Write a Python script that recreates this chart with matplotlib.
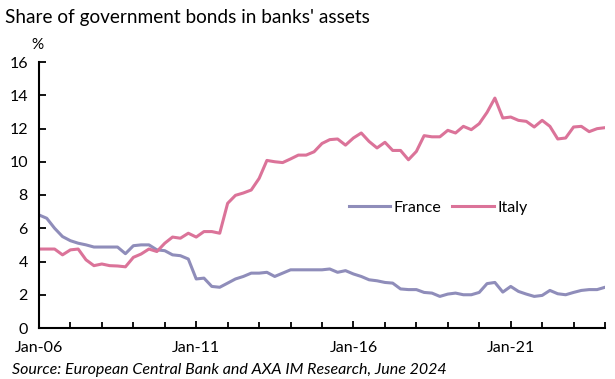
import matplotlib
matplotlib.use("Agg")
import matplotlib.pyplot as plt
import matplotlib.dates as mdates
import pandas as pd

# quarterly observations, Q1 2006 .. Q1 2024
dates = pd.date_range("2006-01-01", "2024-01-01", freq="QS")

france = [6.8, 6.6, 6.0, 5.5, 5.25, 5.1, 5.0, 4.87, 4.87, 4.87, 4.87, 4.47,
          4.95, 5.0, 5.0, 4.7, 4.65, 4.4, 4.35, 4.15, 2.95, 3.0, 2.5, 2.45,
          2.7, 2.95, 3.1, 3.3, 3.3, 3.35, 3.1, 3.3, 3.5, 3.5, 3.5, 3.5,
          3.5, 3.55, 3.35, 3.45, 3.25, 3.1, 2.9, 2.84, 2.74, 2.7, 2.35, 2.31,
          2.31, 2.14, 2.1, 1.9, 2.04, 2.1, 2.0, 2.0, 2.14, 2.67, 2.74, 2.16,
          2.5, 2.2, 2.04, 1.9, 1.96, 2.26, 2.06, 2.0, 2.14, 2.26, 2.31, 2.31,
          2.45]

italy = [4.75, 4.75, 4.75, 4.4, 4.7, 4.75, 4.1, 3.75, 3.85, 3.75, 3.73, 3.68,
         4.25, 4.45, 4.75, 4.6, 5.1, 5.47, 5.4, 5.7, 5.47, 5.8, 5.8, 5.7,
         7.5, 7.98, 8.12, 8.3, 9.0, 10.08, 10.0, 9.95, 10.17, 10.4, 10.4, 10.6,
         11.1, 11.33, 11.37, 11.0, 11.43, 11.73, 11.22, 10.83, 11.17, 10.68, 10.68, 10.12,
         10.62, 11.57, 11.5, 11.5, 11.89, 11.73, 12.13, 11.93, 12.29, 12.97, 13.83, 12.63,
         12.69, 12.49, 12.43, 12.09, 12.49, 12.13, 11.37, 11.43, 12.09, 12.13, 11.81, 11.99,
         12.05]

yticks = [0, 2, 4, 6, 8, 10, 12, 14, 16]
xticks = ["2006-01-01", "2011-01-01", "2016-01-01", "2021-01-01"]

plt.rcParams["font.family"] = ["Lato", "DejaVu Sans"]

fig = plt.figure(figsize=(6.15, 3.79), dpi=100)
ax = fig.add_axes([39 / 615, 1 - 328 / 379, 566 / 615, 266 / 379])

ax.plot(dates, france, color="#8F8DBA", lw=2.2, label="France")
ax.plot(dates, italy, color="#DB7399", lw=2.2, label="Italy")

ax.set_ylim(0, 16)
ax.set_yticks(yticks)
ax.set_xlim(pd.Timestamp("2006-01-01"), pd.Timestamp("2024-01-01"))
ax.set_xticks(pd.to_datetime(xticks))
ax.xaxis.set_minor_locator(mdates.YearLocator(1))
ax.xaxis.set_major_formatter(mdates.DateFormatter("%b-%y"))

for s in ["top", "right"]:
    ax.spines[s].set_visible(False)
for s in ["left", "bottom"]:
    ax.spines[s].set_linewidth(1.5)
ax.tick_params(axis="both", which="major", direction="in", length=5, width=1.3,
               labelsize=11.5, colors="black")
ax.tick_params(axis="x", which="minor", direction="in", length=4, width=1.3)
ax.tick_params(axis="x", which="major", pad=9)
ax.tick_params(axis="y", pad=8)

ax.legend(loc="center", bbox_to_anchor=(0.705, 0.453), ncol=2, frameon=False,
          fontsize=11.5, handlelength=2.6, handletextpad=0.2, columnspacing=0.7)

fig.text(5 / 615, 1 - 17 / 379, "Share of government bonds in banks' assets",
         fontsize=13.7, va="center", ha="left")
fig.text(37 / 615, 1 - 45 / 379, "%", fontsize=11, va="center", ha="center")
fig.text(12 / 615, 1 - 370 / 379,
         "Source: European Central Bank and AXA IM Research, June 2024",
         fontsize=11.5, style="italic", va="center", ha="left")

fig.savefig("out.png", dpi=100)
